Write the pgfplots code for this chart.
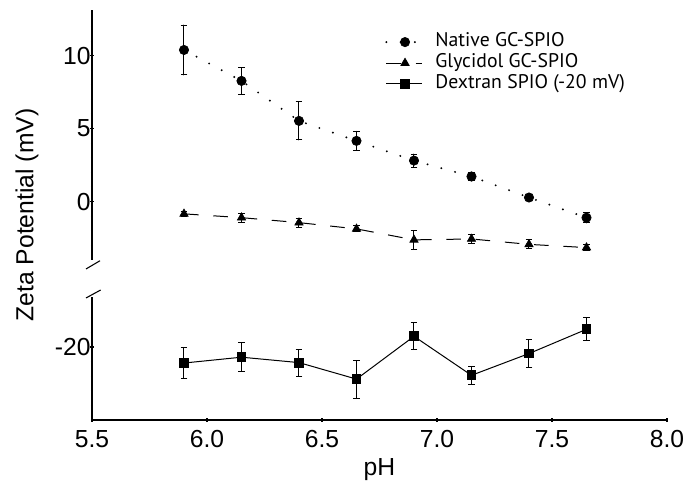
\documentclass[border=0pt]{standalone}
\usepackage{pgfplots}
\pgfplotsset{compat=1.18}
\usepackage{fontspec}
\setmainfont{Liberation Sans}
\newfontfamily\legfont{PT Sans}
\pgfplotstableread{
x y e
5.9 10.39 1.7
6.15 8.27 0.9
6.4 5.53 1.3
6.65 4.16 0.65
6.9 2.81 0.45
7.15 1.72 0.3
7.4 0.28 0.2
7.65 -1.1 0.35
}\native
\pgfplotstableread{
x y e
5.9 -0.84 0.15
6.15 -1.1 0.3
6.4 -1.44 0.3
6.65 -1.87 0.2
6.9 -2.62 0.65
7.15 -2.56 0.3
7.4 -2.93 0.3
7.65 -3.15 0.2
}\glyc
\pgfplotstableread{
x y e
5.9 -21.1 1.07
6.15 -20.7 1.0
6.4 -21.07 0.93
6.65 -22.2 1.3
6.9 -19.27 0.93
7.15 -21.94 0.62
7.4 -20.45 0.95
7.65 -18.79 0.8
}\dextran
\pgfplotsset{
  common/.style={
    scale only axis,
    width=431.25pt,
    xmin=5.5, xmax=8,
    tick align=outside,
    major tick length=3pt,
    minor tick length=1.8pt,
    every tick/.style={black, line width=0.8pt},
    tick label style={font=\fontsize{18.5}{22}\selectfont},
    yticklabel style={xshift=4pt},
    xticklabel style={yshift=-3pt},
    /pgf/number format/assume math mode=true,
    clip=false,
  },
  errs/.style={error bars/.cd, y dir=both, y explicit,
    error bar style={solid, line width=0.75pt},
    error mark options={solid, rotate=90, mark size=2.5pt, line width=0.75pt}},
}
\begin{document}
\begin{tikzpicture}
\path[use as bounding box] (0,0) rectangle (515.25pt,360.75pt);
% top axis
\begin{axis}[common,
  at={(69pt,165.75pt)}, anchor=south west,
  height=187.2pt,
  ymin=-4, ymax=13.1,
  axis x line=none,
  axis y line=left,
  axis line style={-, line width=0.8pt},
  xtick=\empty,
  ytick={0,5,10},
  minor ytick={-3,-2,-1,1,2,3,4,6,7,8,9,11,12,13},
  legend style={at={(rel axis cs:0.5096,0.916)}, anchor=north west,
    draw=none, fill=none, inner sep=0pt, column sep=8pt,
    font=\legfont\fontsize{14.8}{16}\selectfont,
    nodes={inner sep=1pt, text height=10pt, text depth=3.7pt}},
  legend cell align=left,
  legend image code/.code={\draw[mark repeat=2,mark phase=2,#1] plot coordinates {(0pt,0pt) (14pt,0pt) (27pt,0pt)};},
]
\addplot[black, line width=1.6pt, line cap=round, dash pattern=on 0pt off 10.7pt,
  mark=*, mark size=3.5pt, mark options={solid, line width=0.5pt}, errs]
  table[x=x, y=y, y error=e] {\native};
\addlegendentry{Native GC-SPIO}
\addplot[black, line width=0.75pt, dash pattern=on 11pt off 11pt,
  mark=triangle*, mark size=3.6pt, mark options={solid, line width=0.5pt}, errs]
  table[x=x, y=y, y error=e] {\glyc};
\addlegendentry{Glycidol GC-SPIO}
\addlegendimage{black, line width=0.75pt, mark=square*, mark size=3.3pt, mark options={solid}}
\addlegendentry{Dextran SPIO (-20 mV)}
\end{axis}
% bottom axis
\begin{axis}[common,
  at={(69pt,45.75pt)}, anchor=south west,
  height=92pt,
  ymin=-25, ymax=-16.6,
  axis x line=bottom,
  axis y line=left,
  axis line style={-, line width=0.8pt},
  xtick={5.5,6,6.5,7,7.5,8},
  xticklabel style={/pgf/number format/fixed, /pgf/number format/fixed zerofill, /pgf/number format/precision=1},
  ytick={-20},
  minor ytick={-25,-24,-23,-22,-21,-19,-18,-17},
]
\addplot[black, line width=0.75pt, mark=square*, mark size=3.3pt, mark options={solid}, errs]
  table[x=x, y=y, y error=e] {\dextran};
\end{axis}
% axis break marks
\draw[line width=0.8pt] (64.5pt,159pt) -- (75pt,165.2pt);
\draw[line width=0.8pt] (64.5pt,137.25pt) -- (75.5pt,143.25pt);
% axis labels
\node[rotate=90, font=\fontsize{18.5}{22}\selectfont] at (20.25pt,199.5pt) {Zeta Potential (mV)};
\node[anchor=base, font=\fontsize{18.5}{22}\selectfont] at (284.6pt,3.75pt) {pH};
\end{tikzpicture}
\end{document}
